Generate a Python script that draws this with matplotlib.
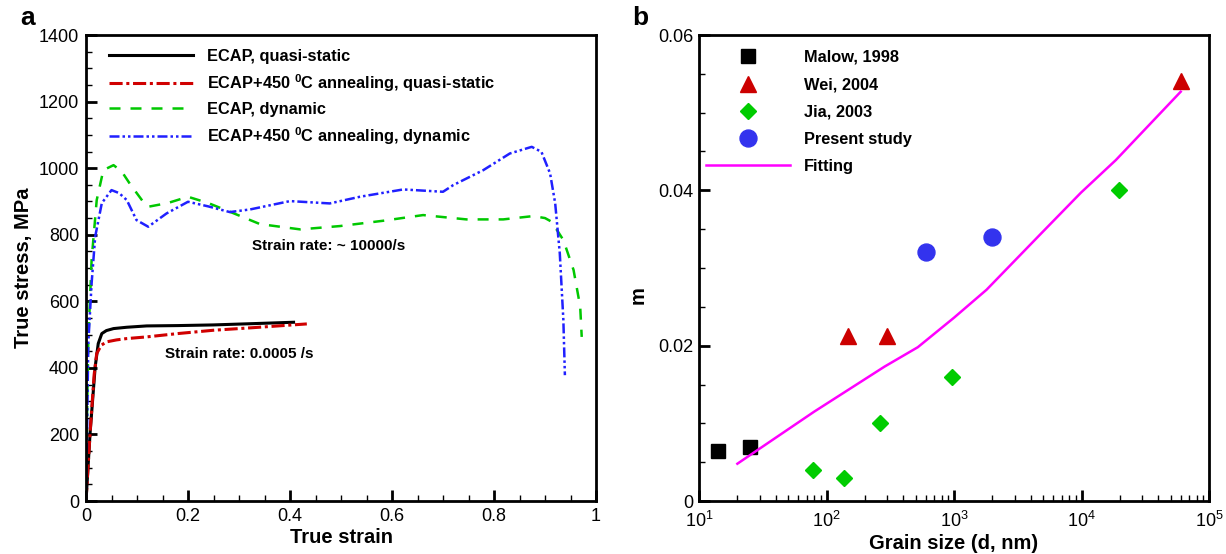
import numpy as np
import matplotlib
matplotlib.use('Agg')
import matplotlib.pyplot as plt
from matplotlib.ticker import MultipleLocator, FormatStrFormatter, LogLocator, LogFormatterMathtext, NullFormatter

plt.rcParams['font.family'] = ['Liberation Sans', 'DejaVu Sans']
plt.rcParams['mathtext.fontset'] = 'custom'
plt.rcParams['mathtext.rm'] = 'Liberation Sans'
plt.rcParams['mathtext.bf'] = 'Liberation Sans:bold'

# panel a: true stress-strain curves
qs_strain = [0, 0.008, 0.018, 0.024, 0.031, 0.04, 0.054, 0.08, 0.119, 0.18, 0.25, 0.33, 0.407]
qs_stress = [0, 204, 403, 473, 503, 512, 518, 522, 526, 527, 529, 533, 537]
qsa_strain = [0, 0.008, 0.016, 0.021, 0.03, 0.04, 0.06, 0.08, 0.119, 0.18, 0.25, 0.33, 0.433]
qsa_stress = [0, 204, 380, 443, 468, 478, 484, 488, 493, 503, 513, 521, 532]
dyn_strain = [0, 0.002, 0.0045, 0.011, 0.021, 0.034, 0.054, 0.07, 0.086, 0.112, 0.122, 0.16, 0.2,
              0.24, 0.282, 0.341, 0.42, 0.498, 0.583, 0.661, 0.746, 0.818, 0.877, 0.9, 0.913,
              0.936, 0.956, 0.969, 0.972]
dyn_stress = [0, 250, 484, 724, 904, 994, 1009, 990, 953, 899, 884, 895, 914,
              895, 869, 832, 816, 826, 842, 859, 846, 846, 856, 850, 839,
              784, 694, 584, 493]
dyna_strain = [0, 0.002, 0.0045, 0.011, 0.018, 0.031, 0.05, 0.065, 0.08, 0.099, 0.122, 0.158, 0.2,
               0.24, 0.282, 0.322, 0.4, 0.478, 0.537, 0.622, 0.7, 0.72, 0.779, 0.831, 0.874,
               0.893, 0.91, 0.92, 0.929, 0.936, 0.939]
dyna_stress = [0, 200, 474, 654, 794, 895, 934, 925, 904, 844, 824, 864, 899,
               885, 868, 876, 901, 894, 914, 936, 929, 949, 994, 1044, 1064,
               1049, 984, 894, 744, 544, 378]

# panel b: strain rate sensitivity vs grain size
malow_d = [14, 25]
malow_m = [0.0065, 0.0069]
wei_d = [148, 300, 60000]
wei_m = [0.0212, 0.0212, 0.0541]
jia_d = [79, 137, 265, 973, 19800]
jia_m = [0.004, 0.0029, 0.010, 0.016, 0.040]
present_d = [600, 2000]
present_m = [0.032, 0.034]
fit_d = [20, 80, 285, 520, 1000, 1800, 4860, 9900, 18600, 60000]
fit_m = [0.0048, 0.0115, 0.0173, 0.0198, 0.0236, 0.0272, 0.0345, 0.0397, 0.0439, 0.0527]

W, H = 1226, 554
fig = plt.figure(figsize=(W/100, H/100), dpi=100)
ax1 = fig.add_axes([86/W, 1-501/H, (596-86)/W, (501-35)/H])
ax2 = fig.add_axes([699/W, 1-501/H, (1209-699)/W, (501-35)/H])

sup = r'$^{\mathbf{0}}$'
ax1.plot(qs_strain, qs_stress, color='black', lw=2.2, label='ECAP, quasi-static')
ax1.plot(qsa_strain, qsa_stress, color='#d00000', lw=2.2, dashes=(4.3, 1.2, 1, 1.2),
         label='ECAP+450 ' + sup + 'C annealing, quasi-static')
ax1.plot(dyn_strain, dyn_stress, color='#00c800', lw=1.8, dashes=(4.4, 4),
         label='ECAP, dynamic')
ax1.plot(dyna_strain, dyna_stress, color='#2020ff', lw=1.8, dashes=(4, 1.2, 1, 1.2, 1, 1.2),
         label='ECAP+450 ' + sup + 'C annealing, dynamic')
ax1.set_xlim(0, 1)
ax1.set_ylim(0, 1400)
ax1.xaxis.set_major_locator(MultipleLocator(0.2))
ax1.xaxis.set_minor_locator(MultipleLocator(0.05))
ax1.yaxis.set_major_locator(MultipleLocator(200))
ax1.yaxis.set_minor_locator(MultipleLocator(50))
ax1.xaxis.set_major_formatter(FormatStrFormatter('%g'))
ax1.set_xlabel('True strain', fontsize=14.5, fontweight='bold', labelpad=2)
ax1.set_ylabel('True stress, MPa', fontsize=14.5, fontweight='bold')
ax1.yaxis.set_label_coords(-53/510, 0.5)
ax1.text(0.475, 766, 'Strain rate: ~ 10000/s', fontsize=11, fontweight='bold', ha='center', va='center')
ax1.text(0.30, 442, 'Strain rate: 0.0005 /s', fontsize=11, fontweight='bold', ha='center', va='center')
ax1.legend(loc='upper left', frameon=False, prop={'weight': 'bold', 'size': 11.8},
           handlelength=5.1, handletextpad=0.85, labelspacing=0.5,
           borderpad=0, borderaxespad=0, bbox_to_anchor=(23/510, 1-14/466))

ax2.plot(malow_d, malow_m, 's', color='black', ms=9.5, ls='none', label='Malow, 1998')
ax2.plot(wei_d, wei_m, '^', color='#cc0000', ms=11, ls='none', label='Wei, 2004')
ax2.plot(jia_d, jia_m, 'D', color='#00cc00', ms=8.5, ls='none', label='Jia, 2003')
ax2.plot(present_d, present_m, 'o', color='#3333ee', ms=12.2, ls='none', label='Present study')
ax2.plot(fit_d, fit_m, color='magenta', lw=1.8, label='Fitting')
ax2.set_xscale('log')
ax2.set_xlim(10, 1e5)
ax2.set_ylim(0, 0.06)
ax2.yaxis.set_major_locator(MultipleLocator(0.02))
ax2.yaxis.set_minor_locator(MultipleLocator(0.005))
ax2.yaxis.set_major_formatter(FormatStrFormatter('%g'))
ax2.xaxis.set_major_locator(LogLocator(base=10, numticks=10))
ax2.xaxis.set_minor_locator(LogLocator(base=10, subs=np.arange(2, 10), numticks=20))
ax2.xaxis.set_major_formatter(LogFormatterMathtext())
ax2.xaxis.set_minor_formatter(NullFormatter())
ax2.set_xlabel('Grain size (d, nm)', fontsize=14.5, fontweight='bold', labelpad=2)
ax2.set_ylabel('m', fontsize=14.5, fontweight='bold')
ax2.yaxis.set_label_coords(-51/510, 1-(295-35)/466)
ax2.legend(loc='upper left', frameon=False, prop={'weight': 'bold', 'size': 11.8},
           handlelength=5.1, handletextpad=0.85, labelspacing=0.75,
           borderpad=0, borderaxespad=0, bbox_to_anchor=(7/510, 1-15/466))

for ax in (ax1, ax2):
    for sp in ax.spines.values():
        sp.set_linewidth(2)
    ax.tick_params(which='major', direction='in', length=8, width=2, labelsize=13,
                   top=False, right=False, pad=5)
    ax.tick_params(which='minor', direction='in', length=4, width=1,
                   top=False, right=False)
ax2.tick_params(axis='x', which='major', pad=7)
ax2.tick_params(axis='y', which='major', pad=4)

fig.text(20/W, 1-18/H, 'a', fontsize=19, fontweight='bold', ha='left', va='center')
fig.text(632/W, 1-18/H, 'b', fontsize=19, fontweight='bold', ha='left', va='center')

fig.savefig('out.png', dpi=100)
